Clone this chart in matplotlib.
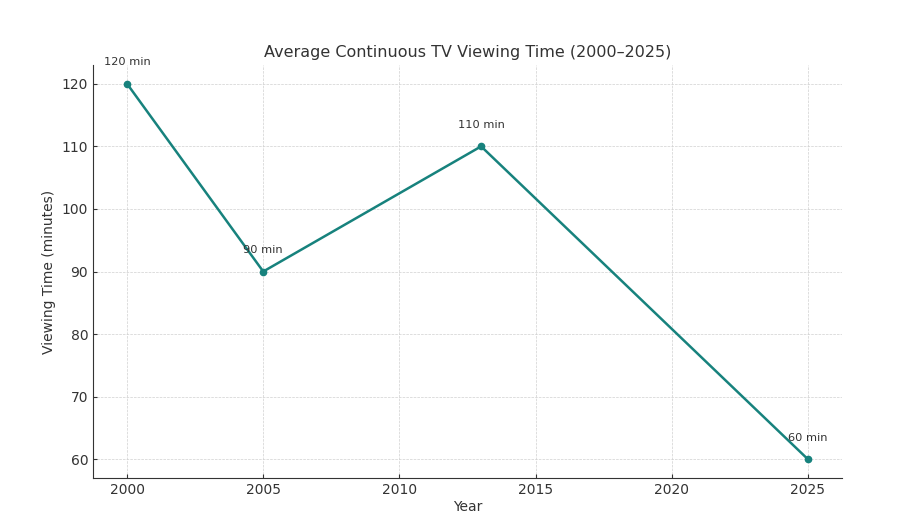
import matplotlib.pyplot as plt

years = [2000, 2005, 2013, 2025]
minutes = [120, 90, 110, 60]
labels = ["120 min", "90 min", "110 min", "60 min"]

line_color = "#17827d"
text_color = "#333333"

fig = plt.figure(figsize=(8.98, 5.14), dpi=100)
ax = fig.add_axes([0.1036, 0.070, 0.834, 0.8035])

ax.plot(years, minutes, color=line_color, linewidth=1.8, marker="o", markersize=4.5)

for x, y, lab in zip(years, minutes, labels):
    ax.annotate(lab, (x, y), xytext=(0, 12), textcoords="offset points",
                ha="center", va="bottom", fontsize=8.2, color=text_color)

ax.set_title("Average Continuous TV Viewing Time (2000–2025)", fontsize=11.5, color=text_color)
ax.set_xlabel("Year", fontsize=10, color=text_color, labelpad=2)
ax.set_ylabel("Viewing Time (minutes)", fontsize=10, color=text_color)

ax.grid(True, linestyle="--", linewidth=0.5, color="#d0d0d0")
ax.set_axisbelow(True)
for side in ["top", "right"]:
    ax.spines[side].set_visible(False)
for side in ["left", "bottom"]:
    ax.spines[side].set_color(text_color)
ax.tick_params(direction="in", colors=text_color, labelsize=10, length=3)

fig.savefig("out.png", dpi=100)
